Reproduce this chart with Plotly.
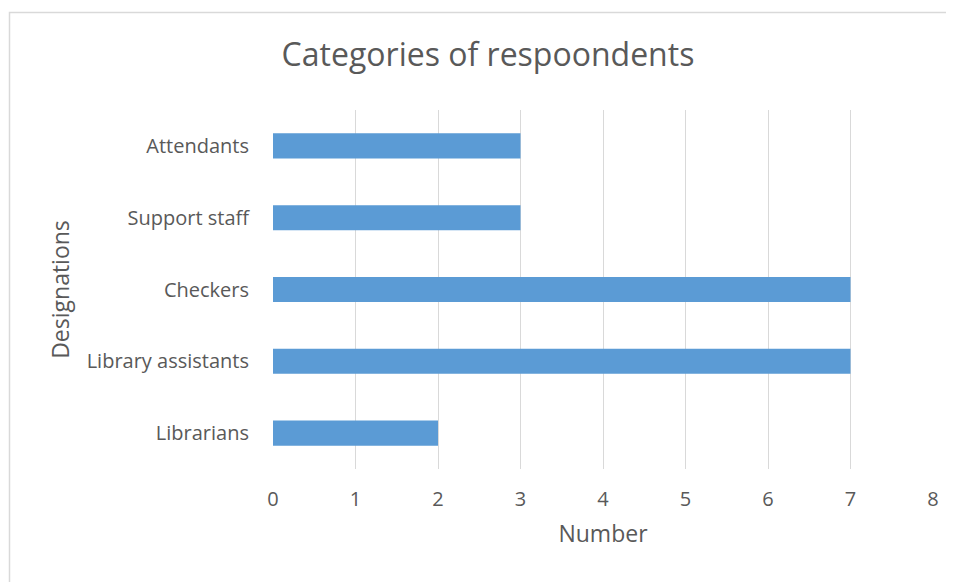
import plotly.graph_objects as go

categories = ["Librarians", "Library assistants", "Checkers", "Support staff", "Attendants"]
values = [2, 7, 7, 3, 3]
x_ticks = [0, 1, 2, 3, 4, 5, 6, 7, 8]

TXT = "#595959"
FONT = "Open Sans"

fig = go.Figure(go.Bar(
    y=categories, x=values, orientation="h",
    marker=dict(color="#5B9BD5", line=dict(width=0)),
))

W, H = 946, 574
L, R, T, B = 265, 21, 102, 113
pw, ph = W - L - R, H - T - B

def px2x(px):
    return (px - L) / pw

def py2y(py):
    return (H - B - py) / ph

fig.update_layout(
    width=W, height=H,
    margin=dict(l=L, r=R, t=T, b=B),
    paper_bgcolor="white", plot_bgcolor="white",
    bargap=0.65,
    showlegend=False,
    font=dict(family=FONT, color=TXT, size=20),
    title=dict(text="Categories of respoondents", x=px2x(480), xref="paper",
               y=1 - 47 / H, yref="container", xanchor="center", yanchor="middle",
               font=dict(size=32, color=TXT, family=FONT)),
    xaxis=dict(range=[0, 8], tickvals=x_ticks, showgrid=True, gridcolor="#D9D9D9",
               gridwidth=1, zeroline=False, showline=False, ticks="",
               ticklabelstandoff=16, tickfont=dict(size=20, color=TXT),
               title=dict(text="Number", font=dict(size=23, color=TXT), standoff=14)),
    yaxis=dict(range=[-0.5, 4.5], showgrid=False, zeroline=False, showline=False,
               ticks="", ticklabelstandoff=23, tickfont=dict(size=20, color=TXT),
               title=dict(text="Designations", font=dict(size=23, color=TXT), standoff=10)),
    shapes=[dict(type="rect", xref="paper", yref="paper",
                 x0=px2x(1.5), x1=px2x(1000), y0=py2y(700), y1=py2y(4.5),
                 line=dict(color="#D9D9D9", width=1.5), fillcolor="rgba(0,0,0,0)",
                 layer="below")],
)

fig.write_html("out.html")
